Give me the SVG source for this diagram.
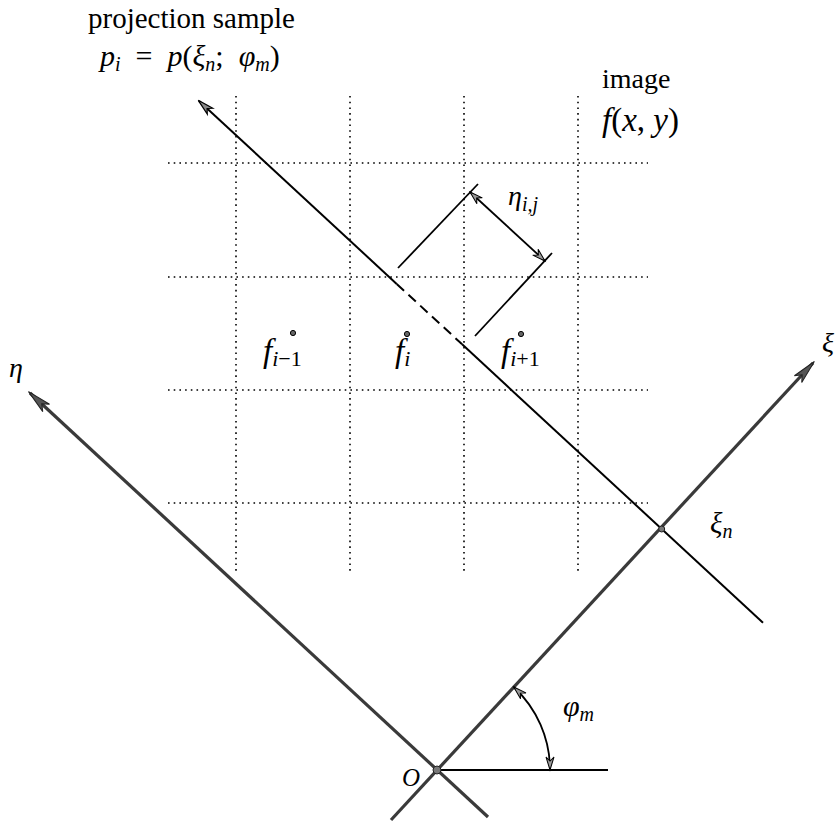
<svg xmlns="http://www.w3.org/2000/svg" width="835" height="822" viewBox="0 0 835 822">
<style>
.grid{stroke:#000;stroke-width:1.6;stroke-dasharray:1.6 4.1;fill:none}
.axis{stroke:#3a3a3a;stroke-width:3.2;fill:none}
.proj{stroke:#000;stroke-width:2;fill:none}
.thin{stroke:#000;stroke-width:1.8;fill:none}
.t{font-family:"Liberation Serif","Times New Roman",serif;fill:#000}
.m{font-family:"Liberation Serif","Times New Roman",serif;font-style:italic;fill:#000}
</style>
<defs>
<marker id="axArr" markerUnits="userSpaceOnUse" markerWidth="30" markerHeight="16" refX="0" refY="0" viewBox="-26 -8 30 16" orient="auto">
<path d="M2,0 L-22,-5 L-16,0 L-22,5 Z" fill="#555" stroke="#222" stroke-width="1"/>
</marker>
<marker id="prArr" markerUnits="userSpaceOnUse" markerWidth="24" markerHeight="12" refX="0" refY="0" viewBox="-20 -6 24 12" orient="auto">
<path d="M1,0 L-15,-4 L-11,0 L-15,4 Z" fill="#888" stroke="#000" stroke-width="1.2"/>
</marker>
<marker id="smArr" markerUnits="userSpaceOnUse" markerWidth="20" markerHeight="12" refX="0" refY="0" viewBox="-16 -6 20 12" orient="auto-start-reverse">
<path d="M0,0 L-13,-4 L-9,0 L-13,4 Z" fill="#999" stroke="#000" stroke-width="1"/>
</marker>
</defs>

<g id="grid">
<line class="grid" x1="236" y1="96" x2="236" y2="573"/>
<line class="grid" x1="350" y1="96" x2="350" y2="573"/>
<line class="grid" x1="464" y1="96" x2="464" y2="573"/>
<line class="grid" x1="578" y1="96" x2="578" y2="573"/>
<line class="grid" x1="168" y1="163" x2="648" y2="163"/>
<line class="grid" x1="168" y1="277" x2="648" y2="277"/>
<line class="grid" x1="168" y1="390" x2="648" y2="390"/>
<line class="grid" x1="168" y1="503" x2="648" y2="503"/>
</g>

<g id="connectors">
<line class="axis" x1="391" y1="820" x2="813" y2="363" marker-end="url(#axArr)"/>
<line class="axis" x1="488" y1="817" x2="30" y2="393" marker-end="url(#axArr)"/>
<line class="proj" x1="396.7" y1="283.9" x2="199" y2="101" marker-end="url(#prArr)"/>
<line class="proj" x1="396.7" y1="283.9" x2="462.1" y2="344.3" stroke-dasharray="10 6"/>
<line class="proj" x1="462.1" y1="344.3" x2="763" y2="622.7"/>
<line class="thin" x1="398" y1="268" x2="478" y2="184"/>
<line class="thin" x1="475" y1="336" x2="552" y2="253"/>
<line class="thin" x1="470" y1="192" x2="545" y2="261" marker-start="url(#smArr)" marker-end="url(#smArr)"/>
<line class="thin" x1="437" y1="770" x2="608" y2="770" stroke-width="2.2"/>
<path class="thin" d="M513.7,687 A113,113 0 0 1 550,770" marker-start="url(#smArr)" marker-end="url(#smArr)"/>
<circle cx="437" cy="770" r="4" fill="#777" stroke="#222" stroke-width="1"/>
<circle cx="661.7" cy="529" r="3" fill="#777" stroke="#222" stroke-width="1"/>
</g>

<g id="label-projection">
<text class="t" x="88" y="28" font-size="29">projection sample</text>
<text class="m" x="100" y="66" font-size="30">p<tspan font-size="20" dy="5">i</tspan><tspan font-style="normal" dy="-5" xml:space="preserve">  =  </tspan>p<tspan font-style="normal">(</tspan>ξ<tspan font-size="20" dy="5">n</tspan><tspan font-style="normal" dy="-5" xml:space="preserve">;  </tspan>φ<tspan font-size="20" dy="5">m</tspan><tspan font-style="normal" dy="-5">)</tspan></text>
</g>

<g id="label-image">
<text class="t" x="602" y="88" font-size="28">image</text>
<text class="m" x="602" y="131" font-size="33">f<tspan font-style="normal">(</tspan>x<tspan font-style="normal">, </tspan>y<tspan font-style="normal">)</tspan></text>
</g>

<g id="label-eta-ij">
<text class="m" x="508" y="205" font-size="28">η<tspan font-size="20" dy="6">i,j</tspan></text>
</g>

<g id="node-f-im1">
<circle cx="293" cy="333" r="2.6" fill="#666" stroke="#000" stroke-width="1"/>
<text class="m" x="263" y="362" font-size="33">f<tspan font-size="22" dy="4">i</tspan><tspan font-size="22" font-style="normal">−1</tspan></text>
</g>
<g id="node-f-i">
<circle cx="407" cy="334" r="2.6" fill="#666" stroke="#000" stroke-width="1"/>
<text class="m" x="395" y="362" font-size="33">f<tspan font-size="22" dy="4">i</tspan></text>
</g>
<g id="node-f-ip1">
<circle cx="521" cy="334" r="2.6" fill="#666" stroke="#000" stroke-width="1"/>
<text class="m" x="501" y="362" font-size="33">f<tspan font-size="22" dy="4">i</tspan><tspan font-size="22" font-style="normal">+1</tspan></text>
</g>

<g id="label-axes">
<text class="m" x="9" y="377" font-size="28">η</text>
<text class="m" x="822" y="352" font-size="28">ξ</text>
<text class="m" x="710" y="533" font-size="29">ξ<tspan font-size="20" dy="5">n</tspan></text>
<text class="m" x="563" y="716" font-size="30">φ<tspan font-size="20" dy="5">m</tspan></text>
<text class="m" x="402" y="786" font-size="25">O</text>
</g>
</svg>
